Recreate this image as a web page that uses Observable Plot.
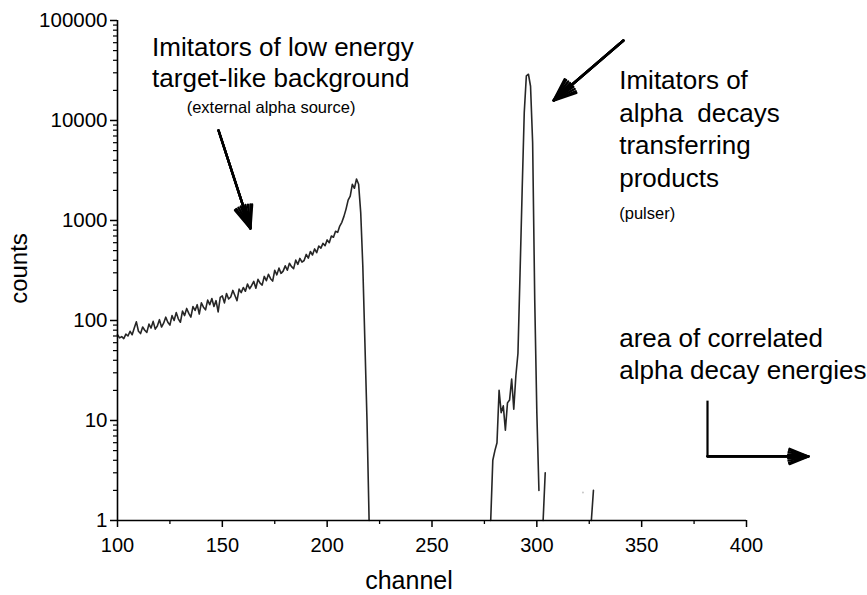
<!DOCTYPE html>
<html>
<head>
<meta charset="utf-8">
<script src="https://cdn.jsdelivr.net/npm/d3@7"></script>
<script src="https://cdn.jsdelivr.net/npm/@observablehq/plot@0.6"></script>
<style>
  html, body { margin: 0; padding: 0; background: #fff; }
  #chart { width: 867px; height: 595px; overflow: hidden; }
</style>
</head>
<body>
<div id="chart"></div>
<script>
// ---- Spectrum data (counts per channel) ----
// Low-energy background segment: channels 100..220
const bgStartChannel = 100;
const bgCounts = [
  72, 67, 69, 66, 73, 70, 78, 72, 84, 97,
  78, 74, 86, 80, 76, 92, 84, 98, 82, 88,
  102, 86, 94, 108, 96, 90, 112, 100, 120, 104,
  96, 124, 112, 132, 118, 108, 138, 126, 144, 116,
  150, 136, 128, 160, 144, 166, 138, 158, 122, 170,
  176, 150, 186, 164, 172, 200, 178, 158, 206, 190,
  214, 196, 232, 208, 224, 246, 210, 258, 236, 226,
  276, 250, 290, 262, 248, 318, 286, 334, 296, 312,
  352, 318, 374, 346, 330, 402, 364, 418, 384, 398,
  458, 420, 490, 452, 520, 476, 556, 530, 590, 560,
  640, 600, 700, 680, 780, 760, 880, 960, 1100, 1300,
  1600, 1750, 2300, 2100, 2600, 2300, 1200, 350, 60, 10,
  1
];

// Pulser peak and isolated counts (null = zero counts, not drawn on log axis)
const peakChannels = [278, 279, 280, 281, 282, 283, 284, 285, 286, 287, 288, 289, 290, 291, 292, 293, 294, 295, 296, 297, 298, 299, 300, 301, 302, 303, 304, 305, 325, 326, 327, 328];
const peakCounts   = [1,   4,   5,   6,   20,  12,  14,  8,   15,  16,  26,  13,  28,  47,  300, 2000, 12000, 28000, 29000, 22000, 6000, 160, 12, 2, null, 1, 3, null, null, 1, 2, null];

const strayChannel = [322];
const strayCount = [1.9];

// ---- Axes ----
const xMajorTicks = [100, 150, 200, 250, 300, 350, 400];
const xMinorTicks = [125, 175, 225, 275, 325, 375];
const yMajorTicks = [1, 10, 100, 1000, 10000, 100000];
const yTickLabels = ["1", "10", "100", "1000", "10000", "100000"];
const yMinorTicks = [];
for (const d of [1, 10, 100, 1000, 10000]) for (let k = 2; k <= 9; k++) yMinorTicks.push(k * d);

// ---- Annotations (positions in data coordinates: channel, counts) ----
const bigLabels = [
  "Imitators of low energy", "target-like background",
  "Imitators of", "alpha  decays", "transferring", "products",
  "area of correlated", "alpha decay energies"
];
const bigLabelX = [116.5, 116.5, 339.3, 339.3, 339.3, 339.3, 339.3, 339.3];
const bigLabelY = [53700, 26300, 25100, 11750, 5620, 2630, 66, 31.6];

const smallLabels = ["(external alpha source)", "(pulser)"];
const smallLabelX = [133, 339.3];
const smallLabelY = [13500, 1170];

const arrowX1 = [148.2, 341.3];
const arrowY1 = [7943, 63096];
const arrowX2 = [163.4, 308.0];
const arrowY2 = [832, 15849];

const cornerX = [381.4];
const cornerTopY = [15.8];
const cornerY = [4.37];
const cornerEndX = [429.6];

// arrow head angles stacked to give a filled-looking head
const headAngles = [12, 24, 36, 44];

// ---- Build tables ----
const bgData = bgCounts.map((c, i) => ({channel: bgStartChannel + i, count: c}));
const peakData = peakChannels.map((ch, i) => ({channel: ch, count: peakCounts[i]}));
const spectrum = [...bgData, {channel: 221, count: null}, ...peakData];

const arrows = arrowX1.map((x1, i) => ({x1, y1: arrowY1[i], x2: arrowX2[i], y2: arrowY2[i]}));
const cornerArrow = cornerX.map((x, i) => ({x1: x, x2: cornerEndX[i], y1: cornerY[i], y2: cornerY[i]}));

const font = "'Liberation Sans', Arial, sans-serif";

const arrowMarks = [];
for (const a of headAngles) {
  arrowMarks.push(Plot.arrow(arrows, {x1: "x1", y1: "y1", x2: "x2", y2: "y2", stroke: "#000", strokeWidth: 2.4, headLength: 15, headAngle: a}));
  arrowMarks.push(Plot.arrow(cornerArrow, {x1: "x1", y1: "y1", x2: "x2", y2: "y2", stroke: "#000", strokeWidth: 2.2, headLength: 14, headAngle: a}));
}

const chart = Plot.plot({
  width: 867,
  height: 595,
  marginLeft: 117,
  marginRight: 121,
  marginTop: 20,
  marginBottom: 75,
  style: {fontFamily: font, fontSize: "20px", color: "#000", background: "#fff", overflow: "visible"},
  x: {domain: [100, 400]},
  y: {type: "log", domain: [1, 100000]},
  marks: [
    // spectrum line
    Plot.line(spectrum, {x: "channel", y: "count", stroke: "#262626", strokeWidth: 1.6, curve: "linear"}),
    Plot.dot(strayChannel.map((c, i) => ({c, v: strayCount[i]})), {x: "c", y: "v", r: 1, fill: "#c8c8c8", stroke: null}),

    // axes lines
    Plot.ruleY([1], {x1: 100, x2: 400, stroke: "#000", strokeWidth: 1.6}),
    Plot.ruleX([100], {y1: 1, y2: 100000, stroke: "#000", strokeWidth: 1.6}),

    // x axis ticks
    Plot.axisX(xMajorTicks, {tickSize: 7, tickPadding: 10, tickFormat: d => String(d), fontSize: 20, label: null, strokeWidth: 1.5}),
    Plot.axisX(xMinorTicks, {tickSize: 4, tickFormat: () => "", label: null, strokeWidth: 1.3}),

    // y axis ticks
    Plot.axisY(yMajorTicks, {tickSize: 7, tickPadding: 3, tickFormat: d => yTickLabels[yMajorTicks.indexOf(d)], fontSize: 20.5, label: null, strokeWidth: 1.5}),
    Plot.axisY(yMinorTicks, {tickSize: 4, tickFormat: () => "", label: null, strokeWidth: 1.2}),

    // axis titles
    Plot.text(["channel"], {frameAnchor: "bottom", dx: -23, dy: 60, fontSize: 25, textAnchor: "middle", lineAnchor: "middle"}),
    Plot.text(["counts"], {frameAnchor: "left", dx: -98, dy: -2, rotate: -90, fontSize: 24, textAnchor: "middle", lineAnchor: "middle"}),

    // annotation texts
    Plot.text(bigLabels, {x: (d, i) => bigLabelX[i], y: (d, i) => bigLabelY[i], text: d => d, textAnchor: "start", lineAnchor: "middle", fontSize: 26, fill: "#000"}),
    Plot.text(smallLabels, {x: (d, i) => smallLabelX[i], y: (d, i) => smallLabelY[i], text: d => d, textAnchor: "start", lineAnchor: "middle", fontSize: 16.5, fill: "#000"}),

    // arrows
    ...arrowMarks,
    Plot.link(cornerX.map((x, i) => ({x, y1: cornerTopY[i], y2: cornerY[i]})),
      {x1: "x", x2: "x", y1: "y1", y2: "y2", stroke: "#000", strokeWidth: 2.2})
  ]
});

document.getElementById("chart").appendChild(chart);
</script>
</body>
</html>
